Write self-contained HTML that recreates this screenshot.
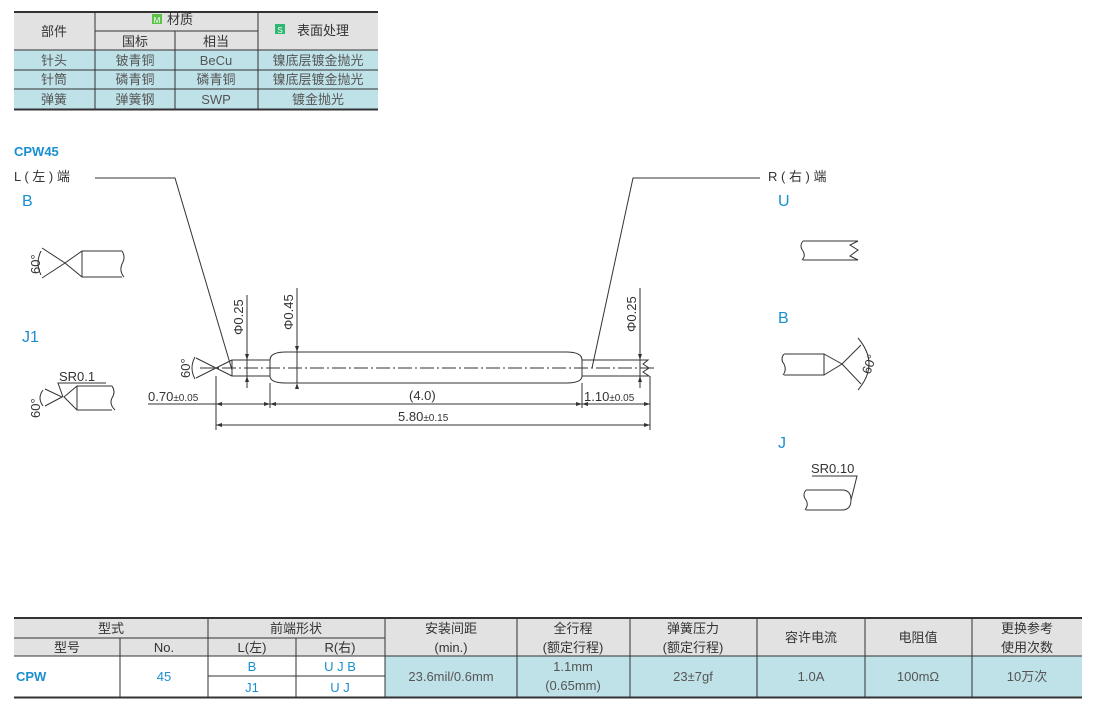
<!DOCTYPE html>
<html><head><meta charset="utf-8"><style>
body{margin:0;width:1100px;height:707px;background:#fff;position:relative;font-family:"Liberation Sans","Noto Sans CJK SC",sans-serif;overflow:hidden}
</style></head><body>
<svg width="1100" height="707" style="position:absolute;left:0;top:0" font-family="Liberation Sans, Noto Sans CJK SC, sans-serif">
<!-- top table -->
<rect x="14" y="12" width="364" height="38" fill="#e2e2e2"/>
<rect x="14" y="50" width="364" height="59" fill="#bfe2e8"/>
<g stroke="#333" stroke-width="1">
<line x1="95" y1="31" x2="258" y2="31"/>
<line x1="14" y1="50" x2="378" y2="50"/>
<line x1="14" y1="70" x2="378" y2="70"/>
<line x1="14" y1="89" x2="378" y2="89"/>
<line x1="95" y1="12" x2="95" y2="109"/>
<line x1="175" y1="31" x2="175" y2="109"/>
<line x1="258" y1="12" x2="258" y2="109"/>
</g>
<line x1="14" y1="12" x2="378" y2="12" stroke="#333" stroke-width="2"/>
<line x1="14" y1="109.5" x2="378" y2="109.5" stroke="#333" stroke-width="2"/>
<g font-size="13" fill="#333" text-anchor="middle">
<text x="54" y="36">部件</text>
<rect x="152" y="14" width="10" height="10" fill="#5cc24a"/><text x="157" y="23" font-size="8" fill="#fff">M</text>
<text x="180" y="24">材质</text>
<text x="135" y="46">国标</text><text x="216" y="46">相当</text>
<rect x="275" y="24" width="10" height="10" fill="#2eb872"/><text x="280" y="33" font-size="8" fill="#fff">S</text>
<text x="323" y="35">表面处理</text>
<text x="54" y="65" fill="#555">针头</text><text x="135" y="65" fill="#555">铍青铜</text><text x="216" y="65" fill="#555">BeCu</text><text x="318" y="65" fill="#555">镍底层镀金抛光</text>
<text x="54" y="84" fill="#555">针筒</text><text x="135" y="84" fill="#555">磷青铜</text><text x="216" y="84" fill="#555">磷青铜</text><text x="318" y="84" fill="#555">镍底层镀金抛光</text>
<text x="54" y="104" fill="#555">弹簧</text><text x="135" y="104" fill="#555">弹簧钢</text><text x="216" y="104" fill="#555">SWP</text><text x="318" y="104" fill="#555">镀金抛光</text>
</g>

<!-- labels -->
<text x="14" y="156" font-size="13" fill="#1a8fd0" font-weight="bold">CPW45</text>
<text x="14" y="181" font-size="13" fill="#333">L ( 左 ) 端</text>
<text x="22" y="206" font-size="16" fill="#1a8fd0">B</text>
<text x="22" y="342" font-size="16" fill="#1a8fd0">J1</text>
<text x="768" y="181" font-size="13" fill="#333">R ( 右 ) 端</text>
<text x="778" y="206" font-size="16" fill="#1a8fd0">U</text>
<text x="778" y="323" font-size="16" fill="#1a8fd0">B</text>
<text x="778" y="448" font-size="16" fill="#1a8fd0">J</text>

<g stroke="#333" stroke-width="1" fill="none">
<!-- leaders -->
<polyline points="95,178 175,178 232,370"/>
<polyline points="760,178 633,178 592,368"/>
<!-- left B detail -->
<polyline points="42,248 65,263 42,278"/>
<polyline points="122,251 82,251 65,263 82,277 122,277"/>
<line x1="82" y1="251" x2="82" y2="277"/>
<path d="M122,251 q4,6 0,13 q-3,7 2,13"/>
<path d="M41,251 q-6,12 0,24"/>
<!-- J1 detail -->
<polyline points="45,389 62,397 45,406"/>
<path d="M112,386 L77,386 L64,397 L77,410 L112,410"/>
<line x1="77" y1="386" x2="77" y2="410"/>
<path d="M112,386 q4,6 0,12 q-3,6 3,12"/>
<path d="M43,390 q-6,8 0,16"/>
<polyline points="106,383 58,383 63,397"/>
<!-- U -->
<path d="M803,241 L858,241 L850,245 L858,250 L850,256 L858,260 L803,260"/>
<path d="M803,241 q-4,5 0,10 q3,5 -1,9"/>
<!-- B right -->
<path d="M784,354 L824,354 L824,375 L784,375"/>
<path d="M784,354 q-4,5 0,10 q3,6 -1,11"/>
<polyline points="824,354 842,364 824,375"/>
<polyline points="861,345 842,364 861,384"/>
<path d="M858,338 q22,26 0,52"/>
<!-- J right -->
<path d="M806,490 L842,490 q9,0 9,10 q0,10 -9,10 L806,510"/>
<path d="M806,490 q-4,5 0,10 q3,5 -1,10"/>
<polyline points="812,476 857,476 851,500"/>

<!-- main pin -->
<path d="M286,352 L566,352 Q582,352 582,360 L582,376 Q582,383 566,383 L286,383 Q270,383 270,376 L270,360 Q270,352 286,352 Z"/>
<polyline points="270,360 232,360 232,376 270,376"/>
<polyline points="232,360 216,368 232,376"/>
<polyline points="196,358 216,368 196,378"/>
<path d="M195,357 q-6,11 0,22"/>
<polyline points="582,360 648,360 643,364 649,368 643,372 649,376 582,376"/>
<line x1="200" y1="368" x2="655" y2="368" stroke-dasharray="14,3,2,3"/>
<!-- dims -->
<line x1="247" y1="295" x2="247" y2="388"/>
<line x1="297" y1="288" x2="297" y2="383"/>
<line x1="640" y1="288" x2="640" y2="388"/>
<line x1="216" y1="376" x2="216" y2="430"/>
<line x1="270" y1="383" x2="270" y2="408"/>
<line x1="582" y1="383" x2="582" y2="408"/>
<line x1="650" y1="376" x2="650" y2="430"/>
<line x1="148" y1="404" x2="650" y2="404"/>
<line x1="216" y1="425" x2="650" y2="425"/>
</g>
<g fill="#333" stroke="none">
<path d="M247,360 l-2,-6 h4z"/><path d="M247,376 l-2,6 h4z"/>
<path d="M297,352 l-2,-6 h4z"/><path d="M297,383 l-2,6 h4z"/>
<path d="M640,360 l-2,-6 h4z"/><path d="M640,376 l-2,6 h4z"/>
<path d="M216,404 l6,-2 v4z"/><path d="M270,404 l-6,-2 v4z"/><path d="M270,404 l6,-2 v4z"/>
<path d="M582,404 l-6,-2 v4z"/><path d="M582,404 l6,-2 v4z"/><path d="M650,404 l-6,-2 v4z"/>
<path d="M216,425 l6,-2 v4z"/><path d="M650,425 l-6,-2 v4z"/>
</g>
<g font-size="13" fill="#333">
<text transform="translate(243,335) rotate(-90)">Φ0.25</text>
<text transform="translate(293,330) rotate(-90)">Φ0.45</text>
<text transform="translate(636,332) rotate(-90)">Φ0.25</text>
<text transform="translate(190,378) rotate(-90)">60°</text>
<text transform="translate(40,274) rotate(-90)">60°</text>
<text transform="translate(40,418) rotate(-90)">60°</text>
<text transform="translate(870,375) rotate(-70)">60°</text>
<text x="148" y="401">0.70<tspan font-size="10">±0.05</tspan></text>
<text x="409" y="400">(4.0)</text>
<text x="584" y="401">1.10<tspan font-size="10">±0.05</tspan></text>
<text x="398" y="421">5.80<tspan font-size="10">±0.15</tspan></text>
<text x="59" y="381">SR0.1</text>
<text x="811" y="473">SR0.10</text>
</g>

<!-- bottom table -->
<rect x="14" y="618" width="1068" height="38" fill="#e2e2e2"/>
<rect x="385" y="656" width="697" height="41" fill="#bfe2e8"/>
<g stroke="#333" stroke-width="1">
<line x1="14" y1="638" x2="385" y2="638"/>
<line x1="14" y1="656" x2="1082" y2="656"/>
<line x1="208" y1="676" x2="385" y2="676"/>
<line x1="120" y1="638" x2="120" y2="697"/>
<line x1="208" y1="618" x2="208" y2="697"/>
<line x1="296" y1="638" x2="296" y2="697"/>
<line x1="385" y1="618" x2="385" y2="697"/>
<line x1="517" y1="618" x2="517" y2="697"/>
<line x1="630" y1="618" x2="630" y2="697"/>
<line x1="757" y1="618" x2="757" y2="697"/>
<line x1="865" y1="618" x2="865" y2="697"/>
<line x1="972" y1="618" x2="972" y2="697"/>
</g>
<line x1="14" y1="618" x2="1082" y2="618" stroke="#333" stroke-width="2"/>
<line x1="14" y1="697.5" x2="1082" y2="697.5" stroke="#333" stroke-width="2"/>
<g font-size="13" fill="#333" text-anchor="middle">
<text x="111" y="633">型式</text>
<text x="67" y="652">型号</text><text x="164" y="652">No.</text>
<text x="296" y="633">前端形状</text>
<text x="252" y="652">L(左)</text><text x="340" y="652">R(右)</text>
<text x="451" y="633">安装间距</text><text x="451" y="652">(min.)</text>
<text x="573" y="633">全行程</text><text x="573" y="652">(额定行程)</text>
<text x="693" y="633">弹簧压力</text><text x="693" y="652">(额定行程)</text>
<text x="811" y="642">容许电流</text>
<text x="918" y="642">电阻值</text>
<text x="1027" y="633">更换参考</text><text x="1027" y="652">使用次数</text>
<text x="164" y="681" fill="#1a8fd0">45</text>
<text x="252" y="671" fill="#1a8fd0">B</text><text x="340" y="671" fill="#1a8fd0">U J B</text>
<text x="252" y="692" fill="#1a8fd0">J1</text><text x="340" y="692" fill="#1a8fd0">U J</text>
<text x="451" y="681" fill="#555">23.6mil/0.6mm</text>
<text x="573" y="671" fill="#555">1.1mm</text><text x="573" y="690" fill="#555">(0.65mm)</text>
<text x="693" y="681" fill="#555">23±7gf</text>
<text x="811" y="681" fill="#555">1.0A</text>
<text x="918" y="681" fill="#555">100mΩ</text>
<text x="1027" y="681" fill="#555">10万次</text>
</g>
<text x="16" y="681" font-size="13" fill="#1a8fd0" font-weight="bold">CPW</text>
</svg>
</body></html>
